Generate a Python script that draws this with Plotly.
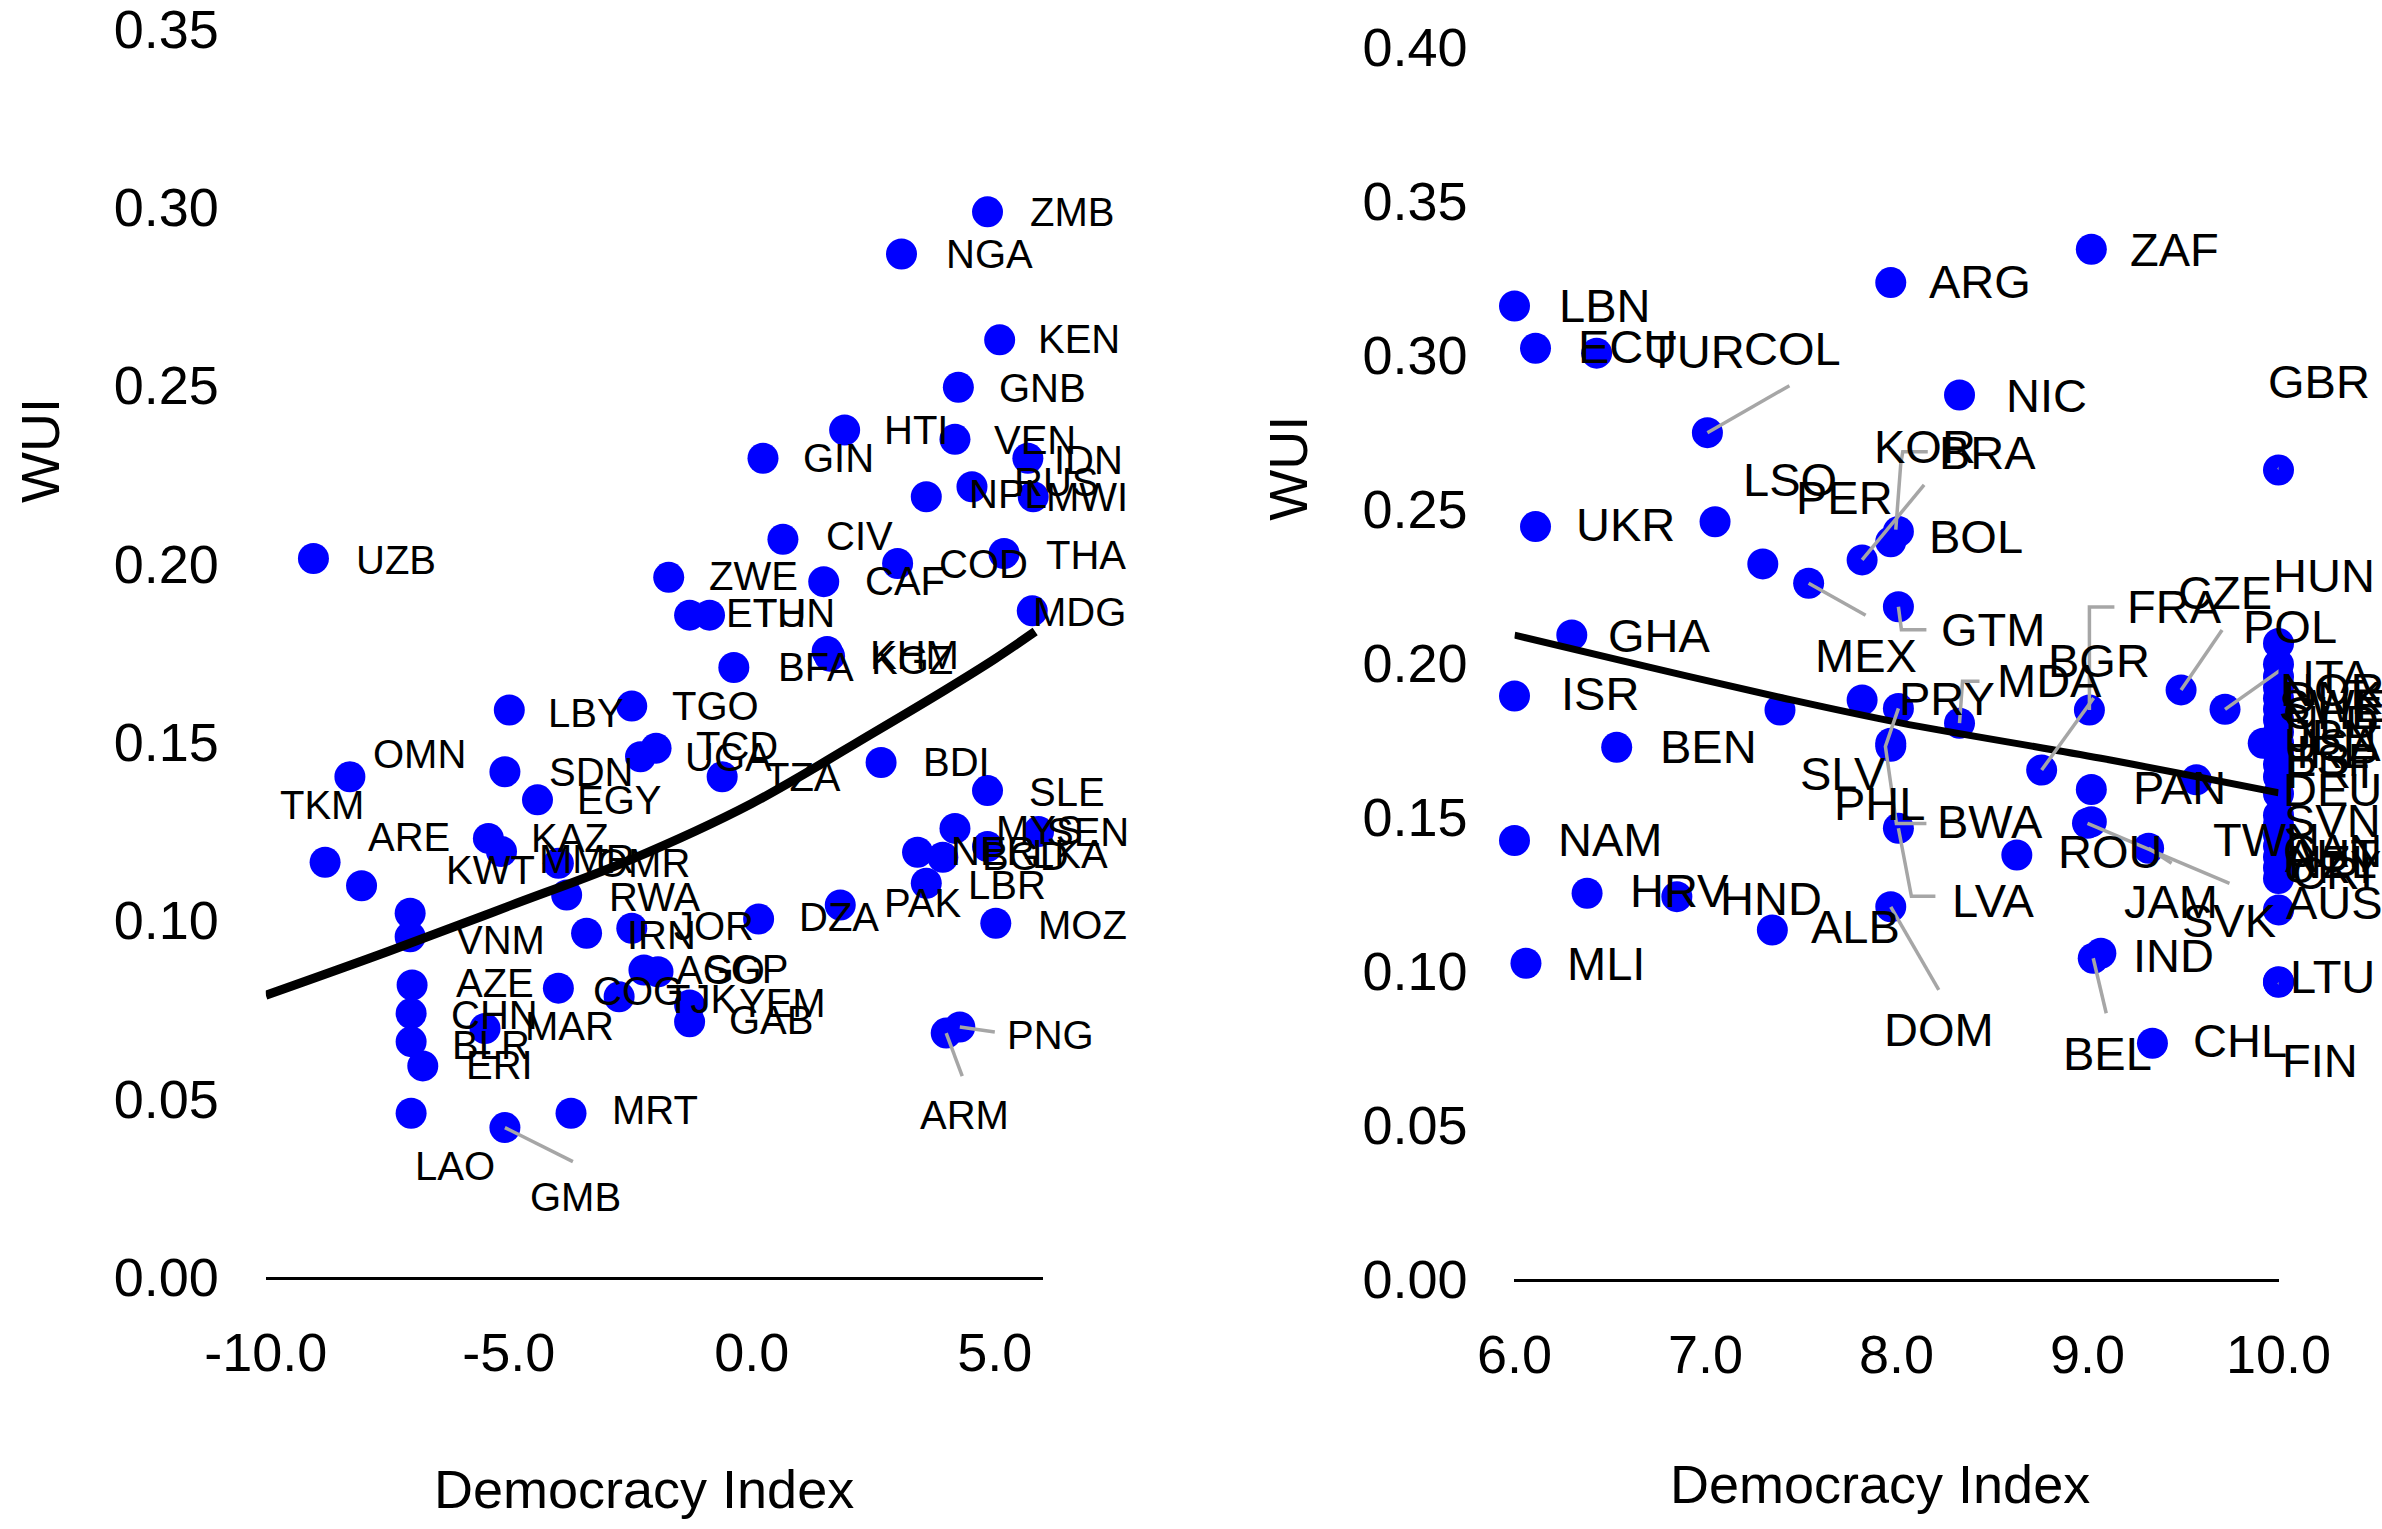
import plotly.graph_objects as go

FONT = "Liberation Sans, Arial, sans-serif"
BLUE = "#0000FF"
SEG_GREY = "#A6A6A6"

# ---------------- left panel ----------------
left_iso = ["ZMB", "NGA", "KEN", "GNB", "HTI", "VEN", "GIN", "IDN", "RUS", "NPL",
            "MWI", "CIV", "COD", "CAF", "THA", "ZWE", "ETH", "TUN", "MDG", "BFA",
            "KHM", "KGZ", "TGO", "TCD", "UGA", "TZA", "BDI", "SLE", "MYS", "SEN",
            "LKA", "NER", "BGD", "LBR", "PAK", "DZA", "JOR", "MOZ", "AGO", "SGP",
            "COG", "TJK", "YEM", "GAB", "OMN", "TKM", "ARE", "LBY", "SDN", "EGY",
            "KAZ", "MMR", "OMR", "RWA", "IRN", "KWT", "VNM", "SAU", "AZE", "CHN",
            "BLR", "MAR", "ERI", "QAT", "MRT", "LAO", "GMB", "ARM", "PNG", "UZB"]
left_dem = [4.85, 3.08, 5.10, 4.25, 1.91, 4.18, 0.23, 5.68, 4.53, 3.59,
            5.79, 0.64, 3.00, 1.48, 5.19, -1.71, -1.28, -0.87, 5.77, -0.37,
            1.55, 1.60, -2.47, -1.97, -2.29, -0.61, 2.66, 4.85, 4.18, 5.90,
            4.85, 3.41, 3.93, 3.59, 1.82, 0.14, -2.47, 5.02, -2.22, -1.93,
            -3.98, -2.73, -1.28, -1.28, -8.27, -8.78, -8.03, -4.99, -5.08, -4.41,
            -5.42, -5.15, -3.98, -3.81, -3.40, -7.03, -7.03, -10.04, -6.99, -7.01,
            -7.01, -5.49, -6.77, -10.05, -3.72, -7.01, -5.08, 4.00, 4.28, -9.02]
left_wui = [0.2987, 0.2869, 0.2628, 0.2495, 0.2375, 0.2349, 0.2296, 0.2296, 0.2216, 0.2188,
            0.2188, 0.2069, 0.2001, 0.1950, 0.2029, 0.1962, 0.1856, 0.1856, 0.1868, 0.1709,
            0.1754, 0.1741, 0.1601, 0.1483, 0.1459, 0.1403, 0.1443, 0.1364, 0.1258, 0.1249,
            0.1207, 0.1191, 0.1177, 0.1104, 0.1043, 0.1004, 0.0978, 0.0992, 0.0861, 0.0856,
            0.0810, 0.0786, 0.0763, 0.0716, 0.1403, 0.1163, 0.1097, 0.1590, 0.1417, 0.1338,
            0.1230, 0.1193, 0.1160, 0.1071, 0.0964, 0.1020, 0.0954, 0.0937, 0.0819, 0.0739,
            0.0660, 0.0697, 0.0592, 0.0538, 0.0459, 0.0459, 0.0419, 0.0684, 0.0701, 0.2015]
left_fit_x = [-10.0, -7.5, -5.0, -2.5, 0.0, 2.5, 4.0, 5.0, 5.83]
left_fit_y = [0.0790, 0.0912, 0.1040, 0.1170, 0.1328, 0.1526, 0.1648, 0.1733, 0.1810]
left_xticks = [-10, -5, 0, 5]
left_xticktext = ["-10.0", "-5.0", "0.0", "5.0"]
left_yticks = [0.00, 0.05, 0.10, 0.15, 0.20, 0.25, 0.30, 0.35]
left_yticktext = ["0.00", "0.05", "0.10", "0.15", "0.20", "0.25", "0.30", "0.35"]

# ---------------- right panel ----------------
right_iso = ["LBN", "ECU", "TUR", "COL", "UKR", "LSO", "PER", "MEX", "BRA", "KOR",
             "BOL", "ARG", "NIC", "ZAF", "GBR", "GTM", "GHA", "ISR", "BEN", "PRY",
             "BWA", "SLV", "PHL", "LVA", "HRV", "HND", "ALB", "DOM", "NAM", "MLI",
             "MDA", "BGR", "FRA", "ROU", "SVK", "JAM", "BEL", "IND", "CHL", "LTU",
             "FIN", "CZE", "ITA", "POL", "HUN", "PAN", "AUS",
             "NOR", "DNK", "SWE", "CHE", "NLD", "JPN", "USA", "IRL", "ESP", "PRT",
             "DEU", "SVN", "TWN", "CAN", "AUT", "NZL", "URY", "CRI",
             "", "", "", ""]
right_dem = [6.00, 6.11, 6.43, 7.01, 6.11, 7.05, 7.30, 7.54, 7.82, 7.97,
             8.01, 7.97, 8.33, 9.02, 10.0, 8.01, 6.30, 6.00, 6.535, 7.82,
             8.01, 7.97, 7.97, 8.01, 6.38, 6.85, 7.35, 7.97, 6.00, 6.06,
             8.33, 8.76, 9.01, 9.02, 9.00, 9.32, 9.03, 9.07, 9.34, 10.0,
             10.0, 9.49, 9.72, 10.0, 10.0, 9.57, 10.0,
             10.0, 10.0, 10.0, 10.0, 10.0, 10.0, 10.0, 10.0, 10.0, 10.0,
             10.0, 10.0, 10.0, 10.0, 10.0, 10.0, 10.0, 10.0,
             7.39, 9.02, 8.63, 9.92]
right_wui = [0.3158, 0.3021, 0.3005, 0.2747, 0.2442, 0.2458, 0.2321, 0.2258, 0.2334, 0.2393,
             0.2426, 0.3234, 0.2869, 0.3342, 0.2626, 0.2182, 0.2090, 0.1892, 0.1726, 0.1879,
             0.1852, 0.1739, 0.1729, 0.1463, 0.1252, 0.1241, 0.1133, 0.1208, 0.1423, 0.1025,
             0.1804, 0.1652, 0.1847, 0.1484, 0.1479, 0.1398, 0.1041, 0.1057, 0.0765, 0.0965,
             0.0963, 0.1912, 0.1849, 0.2063, 0.1995, 0.1620, 0.1198,
             0.1955, 0.1920, 0.1885, 0.1850, 0.1815, 0.1775, 0.1740, 0.1705, 0.1670, 0.1630,
             0.1575, 0.1505, 0.1475, 0.1440, 0.1405, 0.1370, 0.1335, 0.1300,
             0.1847, 0.1589, 0.1376, 0.1739]
right_fit_x = [6.0, 6.71, 7.41, 8.02, 9.07, 10.0]
right_fit_y = [0.2090, 0.1985, 0.1885, 0.1805, 0.1690, 0.1578]
right_xticks = [6, 7, 8, 9, 10]
right_xticktext = ["6.0", "7.0", "8.0", "9.0", "10.0"]
right_yticks = [0.00, 0.05, 0.10, 0.15, 0.20, 0.25, 0.30, 0.35, 0.40]
right_yticktext = ["0.00", "0.05", "0.10", "0.15", "0.20", "0.25", "0.30", "0.35", "0.40"]

# ---------------- label placement (pixel offsets, +y is up) ----------------
left_label_offset = {
    "ZMB": (84, 0), "NGA": (88, 0), "KEN": (79, 1), "GNB": (84, -1), "HTI": (71, 0),
    "VEN": (80, -1), "GIN": (76, 0), "IDN": (61, -2), "RUS": (84, 5), "NPL": (82, 3),
    "MWI": (54, 0), "CIV": (77, 3), "COD": (86, -1), "CAF": (81, 1), "THA": (82, -2),
    "ZWE": (85, 1), "ETH": (76, 2), "TUN": (84, 2), "MDG": (47, -1), "BFA": (82, 1),
    "KHM": (87, -3), "KGZ": (82, -4), "TGO": (84, 0), "TCD": (81, 2), "UGA": (88, 0),
    "TZA": (81, 0), "BDI": (75, 0), "SLE": (79, -1), "MYS": (85, -2), "SEN": (49, 0),
    "LKA": (82, -7), "NER": (75, 1), "BGD": (83, 1), "LBR": (81, -2), "PAK": (82, 2),
    "DZA": (80, 2), "JOR": (82, 2), "MOZ": (87, -2), "AGO": (77, 0), "SGP": (88, 3),
    "COG": (80, -3), "TJK": (82, -2), "YEM": (93, 2), "GAB": (81, 2), "OMN": (70, 23),
    "TKM": (-3, 57), "ARE": (47, 49), "LBY": (77, -3), "SDN": (86, 0), "EGY": (82, 0),
    "KAZ": (82, 0), "MMR": (85, -7), "OMR": (85, 0), "RWA": (88, -2), "IRN": (75, -2),
    "KWT": (80, 43), "VNM": (90, -3), "SAU": (83, 3), "AZE": (83, 2), "CHN": (83, -2),
    "BLR": (80, -3), "MAR": (85, 2), "ERI": (77, 1), "QAT": (87, 2), "MRT": (84, 3),
    "LAO": (44, -53), "GMB": (71, -69), "ARM": (18, -82), "PNG": (91, -8), "UZB": (83, -2),
}
left_segments = {
    "GMB": "M0,0 L68,-34",
    "ARM": "M0,0 L16,-43",
    "PNG": "M0,0 L35,-5",
}

right_label_offset = {
    "LBN": (90, 1), "ECU": (92, 2), "TUR": (100, 2), "COL": (85, 84), "UKR": (90, 2),
    "LSO": (75, 42), "PER": (82, 66), "MEX": (57, -72), "BRA": (125, 107), "KOR": (34, 95),
    "BOL": (78, -5), "ARG": (89, 1), "NIC": (87, 0), "ZAF": (83, 0), "GBR": (41, 88),
    "GTM": (95, -23), "GHA": (88, 0), "ISR": (86, 3), "BEN": (92, 1), "PRY": (85, 2),
    "BWA": (92, -113), "SLV": (-48, -30), "PHL": (-11, -57), "LVA": (95, -72),
    "HRV": (92, 3), "HND": (94, -2), "ALB": (83, 3), "DOM": (48, -123), "NAM": (96, 1),
    "MLI": (80, 0), "MDA": (90, 43), "BGR": (57, 110), "FRA": (85, 103), "ROU": (19, -30),
    "SVK": (142, -97), "JAM": (22, -53), "BEL": (14, -95), "IND": (73, -2), "CHL": (88, 3),
    "LTU": (54, 5), "FIN": (42, -78), "CZE": (44, 97), "ITA": (112, 33), "POL": (12, 17),
    "HUN": (46, 89), "PAN": (-17, -8), "AUS": (56, 7),
    "NOR": (54, -13), "DNK": (54, -10), "SWE": (54, -7), "CHE": (54, -3), "NLD": (54, -2),
    "JPN": (54, -3), "USA": (54, -2), "IRL": (54, 2), "ESP": (54, 5), "PRT": (54, 5),
    "DEU": (54, 4), "SVN": (54, -5), "TWN": (-12, -15), "CAN": (54, -15), "AUT": (54, -9),
    "NZL": (54, -5), "URY": (54, 1), "CRI": (54, 6),
}
right_segments = {
    "COL": "M0,0 L82,47",
    "MEX": "M0,0 L57,-32",
    "BRA": "M0,0 L62,75",
    "KOR": "M5,12 L10,78 L12,90 L37,90",
    "GBR": "M0,0 L40,51",
    "GTM": "M0,0 L3,-23 L28,-23",
    "BWA": "M0,0 L-13,-38 L-2,-115 L28,-115",
    "LVA": "M0,0 L13,-68 L37,-68",
    "DOM": "M0,0 L48,-83",
    "MDA": "M0,0 L3,42 L20,42",
    "BGR": "M0,0 L52,72",
    "FRA": "M0,0 L0,103 L25,103",
    "SVK": "M0,0 L142,-60",
    "JAM": "M0,0 L23,-15",
    "BEL": "M0,0 L13,-55",
    "FIN": "M0,0 L41,-37",
    "CZE": "M0,0 L41,60",
    "ITA": "M0,0 L65,46",
}

fig = go.Figure()

panels = [
    ("x", "y", left_iso, left_dem, left_wui, left_fit_x, left_fit_y,
     left_label_offset, left_segments, 40, 9),
    ("x2", "y2", right_iso, right_dem, right_wui, right_fit_x, right_fit_y,
     right_label_offset, right_segments, 47, 7),
]

annotations = []
shapes = []
for xa, ya, iso, dem, wui, fx, fy, offs, segs, lab_size, fit_w in panels:
    fig.add_trace(go.Scatter(
        x=dem, y=wui, mode="markers", xaxis=xa, yaxis=ya,
        marker=dict(color=BLUE, size=31, line=dict(width=0)),
        cliponaxis=False, hoverinfo="skip", showlegend=False))
    fig.add_trace(go.Scatter(
        x=fx, y=fy, mode="lines", xaxis=xa, yaxis=ya,
        line=dict(color="black", width=fit_w, shape="spline", smoothing=1.0),
        cliponaxis=False, hoverinfo="skip", showlegend=False))
    for name, xv, yv in zip(iso, dem, wui):
        if name in segs:
            shapes.append(dict(
                type="path", xref=xa, yref=ya, xsizemode="pixel", ysizemode="pixel",
                xanchor=xv, yanchor=yv, path=segs[name],
                line=dict(color=SEG_GREY, width=3.5), layer="above"))
        if name and name in offs:
            dx, dy = offs[name]
            annotations.append(dict(
                x=xv, y=yv, xref=xa, yref=ya, text=name, showarrow=False,
                xshift=dx, yshift=dy, xanchor="center", yanchor="middle",
                font=dict(family=FONT, size=lab_size, color="black")))

# axis titles
for txt, px, py, ang in [("Democracy Index", 0.2704, 0.0262, 0),
                         ("Democracy Index", 0.7893, 0.0294, 0),
                         ("WUI", 0.0168, 0.705, -90),
                         ("WUI", 0.5407, 0.694, -90)]:
    annotations.append(dict(
        x=px, y=py, xref="paper", yref="paper", text=txt, showarrow=False,
        textangle=ang, xanchor="center", yanchor="middle",
        font=dict(family=FONT, size=54, color="black")))

tick_font = dict(family=FONT, size=54, color="black")
common_x = dict(showgrid=False, zeroline=False, showline=True, linecolor="black",
                linewidth=3, ticks="", tickfont=tick_font, ticklabelstandoff=26,
                ticklabeloverflow="allow", automargin=False, fixedrange=True)
common_y = dict(showgrid=False, zeroline=False, showline=False, ticks="",
                tickfont=tick_font, ticklabelstandoff=46, ticklabeloverflow="allow",
                automargin=False, fixedrange=True)

fig.update_layout(
    width=2382, height=1529,
    margin=dict(l=0, r=0, t=0, b=0, autoexpand=False),
    paper_bgcolor="white", plot_bgcolor="white",
    showlegend=False,
    xaxis=dict(domain=[0.11159, 0.43804], range=[-10, 6], anchor="y",
               tickmode="array", tickvals=left_xticks, ticktext=left_xticktext, **common_x),
    # range topped slightly above 0.35 so the top tick label is kept
    yaxis=dict(domain=[0.16481, 0.98576], range=[0, 0.352], anchor="x",
               tickmode="array", tickvals=left_yticks, ticktext=left_yticktext, **common_y),
    xaxis2=dict(domain=[0.63581, 0.95655], range=[6, 10], anchor="y2",
                tickmode="array", tickvals=right_xticks, ticktext=right_xticktext, **common_x),
    yaxis2=dict(domain=[0.16351, 0.97355], range=[0, 0.402], anchor="x2",
                tickmode="array", tickvals=right_yticks, ticktext=right_yticktext, **common_y),
    annotations=annotations,
    shapes=shapes,
)

fig.write_html("out.html", config={"displayModeBar": False})
